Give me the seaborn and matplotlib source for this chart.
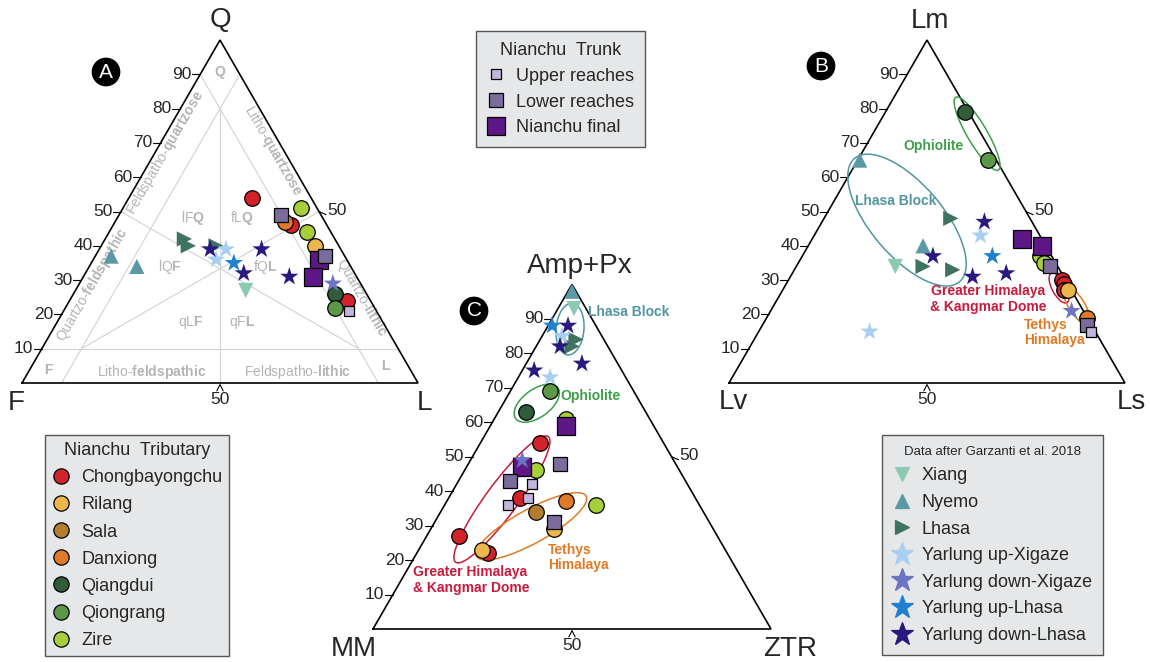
import numpy as np
import pandas as pd
import seaborn as sns
import matplotlib.pyplot as plt
from matplotlib.patches import Ellipse
from matplotlib.lines import Line2D

# ---- panel A: Q-F-L (Q %, L %, F = rest) ----
qfl_group = ['Chongbayongchu', 'Zire', 'Lower reaches', 'Danxiong', 'Chongbayongchu', 'Zire',
             'Rilang', 'Lower reaches', 'Nianchu final', 'Nianchu final', 'Yarlung down-Xigaze',
             'Qiangdui', 'Chongbayongchu', 'Qiongrang', 'Upper reaches',
             'Yarlung down-Lhasa', 'Yarlung down-Lhasa', 'Yarlung down-Lhasa', 'Yarlung down-Lhasa',
             'Yarlung up-Xigaze', 'Yarlung up-Xigaze', 'Yarlung up-Lhasa',
             'Lhasa', 'Lhasa', 'Lhasa', 'Nyemo', 'Nyemo', 'Xiang']
qfl_Q = [54, 51, 49, 47, 46, 44, 40, 37, 36, 31, 29, 26, 24, 22, 21,
         39, 39, 32, 31, 39, 36, 35, 42, 40, 40, 37, 34, 27]
qfl_L = [31, 45, 41, 43, 45, 50, 54, 58, 57, 58, 64, 66, 70, 68, 72,
         28, 41, 40, 52, 32, 31, 36, 20, 22, 29, 4, 12, 43]

# ---- panel B: Lm-Lv-Ls (Lm %, Ls %, Lv = rest) ----
lm_group = ['Qiangdui', 'Qiongrang', 'Nyemo', 'Nyemo', 'Lhasa', 'Lhasa', 'Lhasa', 'Xiang',
            'Yarlung down-Lhasa', 'Yarlung down-Lhasa', 'Yarlung down-Lhasa', 'Yarlung down-Lhasa',
            'Yarlung up-Xigaze', 'Yarlung up-Xigaze', 'Yarlung up-Lhasa', 'Yarlung down-Xigaze',
            'Nianchu final', 'Nianchu final', 'Zire', 'Zire', 'Lower reaches', 'Lower reaches',
            'Chongbayongchu', 'Chongbayongchu', 'Chongbayongchu', 'Rilang', 'Danxiong', 'Upper reaches']
lm_Lm = [79, 65, 65, 40, 48, 34, 33, 34, 47, 37, 31, 32, 43, 15, 37, 21,
         42, 40, 37, 35, 34, 17, 30, 29, 27, 27, 19, 15]
lm_Ls = [20, 33, 0.5, 29, 32, 32, 40, 25, 41, 33, 46, 54, 42, 28, 48, 76,
         53, 59, 60, 62, 64, 82, 69, 70, 71, 72, 81, 84]

# ---- panel C: Amp+Px - MM - ZTR (Amp+Px %, ZTR %, MM = rest) ----
hm_group = ['Nyemo', 'Xiang', 'Yarlung up-Lhasa',
            'Yarlung down-Lhasa', 'Yarlung down-Lhasa', 'Yarlung down-Lhasa', 'Yarlung down-Lhasa',
            'Yarlung up-Xigaze', 'Yarlung up-Xigaze', 'Lhasa', 'Lhasa', 'Qiongrang', 'Qiangdui',
            'Zire', 'Zire', 'Zire', 'Nianchu final', 'Nianchu final',
            'Chongbayongchu', 'Chongbayongchu', 'Chongbayongchu', 'Chongbayongchu',
            'Lower reaches', 'Lower reaches', 'Lower reaches', 'Yarlung down-Xigaze',
            'Upper reaches', 'Upper reaches', 'Upper reaches', 'Danxiong', 'Sala', 'Rilang', 'Rilang']
hm_Amp = [98, 93, 88, 88, 82, 77, 75, 85, 73, 84, 82, 69, 63, 61, 46, 36, 59, 47,
          54, 38, 27, 22, 48, 43, 31, 49, 42, 38, 36, 37, 34, 29, 23]
hm_ZTR = [1, 4, 1, 5, 6, 14, 3, 5, 8, 9, 9, 10, 7, 18, 18, 38, 19, 14,
          15, 18, 8, 18, 23, 13, 30, 13, 19, 20, 16, 30, 24, 31, 16]

tributary = ['Chongbayongchu', 'Rilang', 'Sala', 'Danxiong', 'Qiangdui', 'Qiongrang', 'Zire']
trunk = ['Upper reaches', 'Lower reaches', 'Nianchu final']
garzanti = ['Xiang', 'Nyemo', 'Lhasa', 'Yarlung up-Xigaze', 'Yarlung down-Xigaze',
            'Yarlung up-Lhasa', 'Yarlung down-Lhasa']

# marker, colour, scatter size, legend size
style = {
    'Chongbayongchu': ('o', '#d2232a', 125, 11),
    'Rilang': ('o', '#ecb64a', 125, 11),
    'Sala': ('o', '#b07e2c', 125, 11),
    'Danxiong': ('o', '#df7a2a', 125, 11),
    'Qiangdui': ('o', '#305c3a', 125, 11),
    'Qiongrang': ('o', '#5b9949', 125, 11),
    'Zire': ('o', '#a7cf3c', 125, 11),
    'Upper reaches': ('s', '#c3b4dc', 55, 7),
    'Lower reaches': ('s', '#7b6c9c', 95, 9.5),
    'Nianchu final': ('s', '#5d1886', 160, 12.5),
    'Xiang': ('v', '#8dc9b1', 120, 10),
    'Nyemo': ('^', '#5a99a5', 120, 10),
    'Lhasa': ('>', '#3e7362', 120, 10),
    'Yarlung up-Xigaze': ('*', '#a8cff2', 190, 17),
    'Yarlung down-Xigaze': ('*', '#6c74c4', 190, 17),
    'Yarlung up-Lhasa': ('*', '#1f80d1', 190, 17),
    'Yarlung down-Lhasa': ('*', '#29197f', 190, 17),
}
draw_order = tributary + ['Nianchu final', 'Lower reaches', 'Upper reaches'] + garzanti

sns.set_style('white')
plt.rcParams['font.family'] = ['Liberation Sans', 'DejaVu Sans']
plt.rcParams['mathtext.fontset'] = 'custom'
plt.rcParams['mathtext.rm'] = 'Liberation Sans'
plt.rcParams['mathtext.bf'] = 'Liberation Sans:bold'

H = np.sqrt(3) / 2
FW, FH = 1150, 662
fig = plt.figure(figsize=(FW / 100, FH / 100), dpi=100)


def to_xy(top, right):
    top = np.asarray(top, dtype=float) / 100
    right = np.asarray(right, dtype=float) / 100
    return right + top / 2, top * H


def make_ax(x0, yb, w):
    m = 0.2
    ax = fig.add_axes([(x0 - m * w) / FW, (FH - yb - m * w) / FH,
                       (1 + 2 * m) * w / FW, (H + 2 * m) * w / FH])
    ax.set_xlim(-m, 1 + m)
    ax.set_ylim(-m, H + m)
    ax.axis('off')
    ax.plot([0, 1, 0.5, 0], [0, 0, H, 0], color='black', lw=1.2, zorder=3,
            solid_joinstyle='miter')
    for v in range(10, 100, 10):
        x, y = v / 200, v / 100 * H
        ax.plot([x - 0.02, x], [y, y], color='black', lw=0.8)
        ax.text(x - 0.022, y, str(v), ha='right', va='center', fontsize=12.5)
    ax.plot([0.75, 0.768], [H / 2, H / 2 - 0.008], color='black', lw=0.8)
    ax.text(0.77, H / 2 + 0.003, '50', ha='left', va='center', fontsize=12.5)
    ax.plot([0.492, 0.5, 0.508], [-0.02, -0.004, -0.02], color='black', lw=0.8)
    ax.text(0.5, -0.022, '50', ha='center', va='top', fontsize=12.5)
    return ax


def draw_points(ax, groups, top, right):
    df = pd.DataFrame({'group': groups, 'top': top, 'right': right})
    df['x'], df['y'] = to_xy(df['top'], df['right'])
    for z, g in enumerate(draw_order):
        sub = df[df['group'] == g]
        if sub.empty:
            continue
        mk, col, s, _ = style[g]
        edge = 'black' if mk in ('o', 's') else 'none'
        sns.scatterplot(data=sub, x='x', y='y', ax=ax, marker=mk, color=col, s=s,
                        edgecolor=edge, linewidth=0.9, zorder=5 + z * 0.1, legend=False)
    ax.set_xlabel('')
    ax.set_ylabel('')


def ellipse(ax, top, right, major, minor, angle, color):
    cx, cy = to_xy(top, right)
    ax.add_patch(Ellipse((cx, cy), major, minor, angle=angle, fill=False,
                         edgecolor=color, lw=1.1, zorder=4))


GREY = '#b4b4b4'
GREEN, TEAL, CRIMSON, ORANGE = '#3b9f49', '#4f96a2', '#c71a3d', '#e07a25'

# ---------------- panel A ----------------
axA = make_ax(22, 383, 396)
line_kw = dict(color='#d2d2d2', lw=0.8, zorder=1)
axA.plot([0.05, 0.95], [0.1 * H, 0.1 * H], **line_kw)
xa, ya = to_xy([90, 0], [0, 90])
axA.plot(xa, ya, **line_kw)
xa, ya = to_xy([90, 0], [10, 10])
axA.plot(xa, ya, **line_kw)
xa, ya = to_xy([80, 0], [10, 50])
axA.plot(xa, ya, **line_kw)
xa, ya = to_xy([50, 10], [0, 80])
axA.plot(xa, ya, **line_kw)
xa, ya = to_xy([50, 10], [50, 10])
axA.plot(xa, ya, **line_kw)

gt = dict(color=GREY, fontsize=10, ha='center', va='center', zorder=2)
axA.text(0.5, 0.785, r'$\mathbf{Q}$', **gt)
axA.text(0.068, 0.033, r'$\mathbf{F}$', **gt)
axA.text(0.919, 0.043, r'$\mathbf{L}$', **gt)
axA.text(0.328, 0.028, r'Litho-$\mathbf{feldspathic}$', **gt)
axA.text(0.697, 0.028, r'Feldspatho-$\mathbf{lithic}$', **gt)
axA.text(0.361, 0.581, r'Feldspatho-$\mathbf{quartzose}$', rotation=60, **gt)
axA.text(0.177, 0.247, r'Quartzo-$\mathbf{feldspathic}$', rotation=60, **gt)
axA.text(0.634, 0.588, r'Litho-$\mathbf{quartzose}$', rotation=-60, **gt)
axA.text(0.859, 0.215, r'Quartzo-$\mathbf{lithic}$', rotation=-60, **gt)
axA.text(0.432, 0.417, r'lF$\mathbf{Q}$', **gt)
axA.text(0.556, 0.417, r'fL$\mathbf{Q}$', **gt)
axA.text(0.374, 0.293, r'lQ$\mathbf{F}$', **gt)
axA.text(0.614, 0.293, r'fQ$\mathbf{L}$', **gt)
axA.text(0.427, 0.154, r'qL$\mathbf{F}$', **gt)
axA.text(0.556, 0.154, r'qF$\mathbf{L}$', **gt)
draw_points(axA, qfl_group, qfl_Q, qfl_L)

# ---------------- panel B ----------------
axB = make_ax(729, 383, 396)
ellipse(axB, 72.7, 26.3, 0.213, 0.05, -59.6, GREEN)
ellipse(axB, 47.5, 21.2, 0.409, 0.182, -49.6, TEAL)
ellipse(axB, 27.7, 69.5, 0.084, 0.035, -61.7, CRIMSON)
ellipse(axB, 22.7, 76.4, 0.112, 0.04, -58, ORANGE)
lt = dict(fontsize=10, fontweight='bold', va='center', linespacing=1.1, zorder=6)
axB.text(0.516, 0.598, 'Ophiolite', color=GREEN, ha='center', **lt)
axB.text(0.4217, 0.4596, 'Lhasa Block', color=TEAL, ha='center', **lt)
axB.text(0.6545, 0.2121, 'Greater Himalaya\n& Kangmar Dome', color=CRIMSON, ha='center', **lt)
axB.text(0.745, 0.1275, 'Tethys\nHimalaya', color=ORANGE, ha='left', **lt)
draw_points(axB, lm_group, lm_Lm, lm_Ls)

# ---------------- panel C ----------------
axC = make_ax(373, 629, 398)
ellipse(axC, 87, 6, 0.13, 0.07, 85, TEAL)
ellipse(axC, 65.5, 8.4, 0.131, 0.07, 36, GREEN)
ellipse(axC, 37.6, 13.6, 0.392, 0.08, 53.6, CRIMSON)
ellipse(axC, 29.8, 24.9, 0.314, 0.085, 28.9, ORANGE)
axC.text(0.541, 0.796, 'Lhasa Block', color=TEAL, ha='left', **lt)
axC.text(0.4698, 0.586, 'Ophiolite', color=GREEN, ha='left', **lt)
axC.text(0.0997, 0.1231, 'Greater Himalaya\n& Kangmar Dome', color=CRIMSON, ha='left', **lt)
axC.text(0.439, 0.18, 'Tethys\nHimalaya', color=ORANGE, ha='left', **lt)
draw_points(axC, hm_group, hm_Amp, hm_ZTR)

# vertex labels
vt = dict(fontsize=20, ha='center', va='center')
fig.text(220 / FW, 1 - 20 / FH, 'Q', **vt)
fig.text(16 / FW, 1 - 403 / FH, 'F', **vt)
fig.text(424 / FW, 1 - 403 / FH, 'L', **vt)
fig.text(930 / FW, 1 - 21 / FH, 'Lm', **vt)
fig.text(733 / FW, 1 - 402 / FH, 'Lv', **vt)
fig.text(1131 / FW, 1 - 402 / FH, 'Ls', **vt)
fig.text(580 / FW, 1 - 266 / FH, 'Amp+Px', **vt)
fig.text(354 / FW, 1 - 649 / FH, 'MM', **vt)
fig.text(790 / FW, 1 - 649 / FH, 'ZTR', **vt)

for lab, px, py in [('A', 106, 72), ('B', 821, 66), ('C', 474, 311)]:
    fig.text(px / FW, 1 - py / FH, lab, color='white', fontsize=15, ha='center', va='center',
             bbox=dict(boxstyle='circle,pad=0.2', fc='black', ec='black'))


def handles(names):
    out = []
    for n in names:
        mk, col, _, ms = style[n]
        edge = 'black' if mk in ('o', 's') else col
        out.append(Line2D([], [], linestyle='none', marker=mk, markersize=ms,
                          markerfacecolor=col, markeredgecolor=edge, markeredgewidth=0.9))
    return out


leg_kw = dict(loc='upper left', frameon=True, fancybox=False, framealpha=1,
              facecolor='#e6e7e8', edgecolor='#555555', fontsize=13, borderaxespad=0,
              handlelength=1.0, handletextpad=0.6)
lg1 = fig.legend(handles(tributary), tributary, bbox_to_anchor=(45 / FW, 1 - 435 / FH),
                 title='Nianchu  Tributary', title_fontsize=13, labelspacing=0.56,
                 borderpad=0.4, **leg_kw)
lg2 = fig.legend(handles(trunk), trunk, bbox_to_anchor=(476 / FW, 1 - 31 / FH),
                 title='Nianchu  Trunk', title_fontsize=13, labelspacing=0.49,
                 borderpad=0.6, **leg_kw)
lg3 = fig.legend(handles(garzanti), garzanti, bbox_to_anchor=(882 / FW, 1 - 435 / FH),
                 title='Data after Garzanti et al. 2018', title_fontsize=9.5,
                 labelspacing=0.53, borderpad=0.6, **leg_kw)
for lg in (lg1, lg2, lg3):
    lg.get_frame().set_linewidth(1.0)

fig.savefig('out.png', dpi=100)
